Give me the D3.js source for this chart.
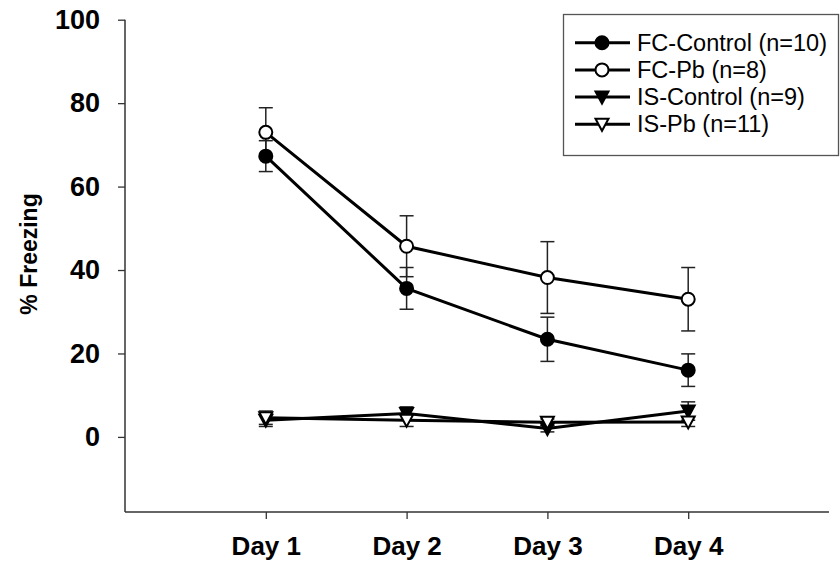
<!DOCTYPE html>
<html>
<head>
<meta charset="utf-8">
<script src="https://cdn.jsdelivr.net/npm/d3@7"></script>
<style>
body { margin: 0; background: #fff; }
text { font-family: "Liberation Sans", Arial, sans-serif; }
</style>
</head>
<body>
<svg width="840" height="568"></svg>
<script>
var days = ["Day 1", "Day 2", "Day 3", "Day 4"];
var yTicks = [0, 20, 40, 60, 80, 100];

var seriesNames = ["FC-Control (n=10)", "FC-Pb (n=8)", "IS-Control (n=9)", "IS-Pb (n=11)"];
var fcControl = [67.3, 35.6, 23.4, 16.0];
var fcControlErr = [3.7, 5.0, 5.3, 3.9];
var fcPb = [73.0, 45.7, 38.2, 33.0];
var fcPbErr = [5.9, 7.3, 8.6, 7.6];
var isControl = [4.0, 5.6, 2.0, 6.2];
var isControlErr = [1.5, 1.6, 0.8, 2.2];
var isPb = [4.6, 4.0, 3.5, 3.6];
var isPbErr = [1.6, 1.5, 0.8, 1.1];

var series = [
  {name: seriesNames[0], values: fcControl, err: fcControlErr, shape: "circle", fill: "#000"},
  {name: seriesNames[1], values: fcPb, err: fcPbErr, shape: "circle", fill: "#fff"},
  {name: seriesNames[2], values: isControl, err: isControlErr, shape: "tri", fill: "#000"},
  {name: seriesNames[3], values: isPb, err: isPbErr, shape: "tri", fill: "#fff"}
];

var svg = d3.select('svg');

var scaleX = d3.scaleLinear().domain([0, 5]).range([125, 829]);
var scaleY = d3.scaleLinear().domain([-18, 100]).range([512, 19.7]);

// axes
svg.append("g")
    .attr('transform', 'translate(0,512)')
    .call(d3.axisBottom(scaleX).tickValues([1, 2, 3, 4]).tickSize(7).tickPadding(18)
        .tickFormat(function(d){ return days[d - 1]; }))
    .call(function(g){
        g.select('.domain').attr('stroke', '#333').attr('stroke-width', 1.5).attr('d', 'M125,0H829');
        g.selectAll('.tick line').attr('stroke', '#333').attr('stroke-width', 1.3);
        g.selectAll('.tick text').attr('font-size', 26).attr('font-weight', 'bold')
            .attr('fill', '#000').style('font-family', '"Liberation Sans", Arial, sans-serif');
    });

svg.append("g")
    .attr('transform', 'translate(125,0)')
    .call(d3.axisLeft(scaleY).tickValues(yTicks).tickSize(7).tickPadding(18))
    .call(function(g){
        g.select('.domain').attr('stroke', '#333').attr('stroke-width', 1.5)
            .attr('d', 'M0,' + scaleY(100) + 'V512');
        g.selectAll('.tick line').attr('stroke', '#333').attr('stroke-width', 1.3);
        g.selectAll('.tick text').attr('font-size', 27).attr('font-weight', 'bold')
            .attr('fill', '#000').style('font-family', '"Liberation Sans", Arial, sans-serif');
    });

svg.append('text')
    .text('% Freezing')
    .attr('transform', 'translate(37,254) rotate(-90)')
    .attr('font-size', 23)
    .attr('font-weight', 'bold')
    .style('text-anchor', 'middle');

function xOf(i){ return scaleX(i + 1); }

// error bars
series.forEach(function(s){
    var g = svg.append('g').attr('stroke', '#222').attr('stroke-width', 1.5);
    s.values.forEach(function(v, i){
        var x = xOf(i), top = scaleY(v + s.err[i]), bot = scaleY(v - s.err[i]);
        g.append('line').attr('x1', x).attr('x2', x).attr('y1', top).attr('y2', bot);
        g.append('line').attr('x1', x - 7).attr('x2', x + 7).attr('y1', top).attr('y2', top);
        g.append('line').attr('x1', x - 7).attr('x2', x + 7).attr('y1', bot).attr('y2', bot);
    });
});

var line = d3.line()
    .x(function(d, i){ return xOf(i); })
    .y(function(d){ return scaleY(d); });

series.forEach(function(s){
    svg.append('path')
        .attr('d', line(s.values))
        .attr('fill', 'none')
        .attr('stroke', '#000')
        .attr('stroke-width', 3);
});

var triPath = 'M-6.5,-5.5L6.5,-5.5L0,6.5Z';

function drawMarker(g, s, x, y){
    if (s.shape == "circle") {
        g.append('circle').attr('cx', x).attr('cy', y).attr('r', 6.5)
            .attr('fill', s.fill).attr('stroke', '#000').attr('stroke-width', 2);
    } else {
        g.append('path').attr('d', triPath).attr('transform', 'translate(' + x + ',' + y + ')')
            .attr('fill', s.fill).attr('stroke', '#000').attr('stroke-width', 2);
    }
}

series.forEach(function(s){
    var g = svg.append('g');
    s.values.forEach(function(v, i){ drawMarker(g, s, xOf(i), scaleY(v)); });
});

// legend
var legend = svg.append('g');
legend.append('rect')
    .attr('x', 563.5).attr('y', 14.5).attr('width', 275).attr('height', 141)
    .attr('fill', '#fff').attr('stroke', '#555').attr('stroke-width', 1.3);

series.forEach(function(s, i){
    var y = 42.7 + i * 27.2;
    var g = legend.append('g');
    g.append('line').attr('x1', 575).attr('x2', 630).attr('y1', y).attr('y2', y)
        .attr('stroke', '#000').attr('stroke-width', 3);
    drawMarker(g, s, 602, y);
    g.append('text').text(s.name).attr('x', 637).attr('y', y + 8)
        .attr('font-size', 23.5).attr('fill', '#000');
});
</script>
</body>
</html>
